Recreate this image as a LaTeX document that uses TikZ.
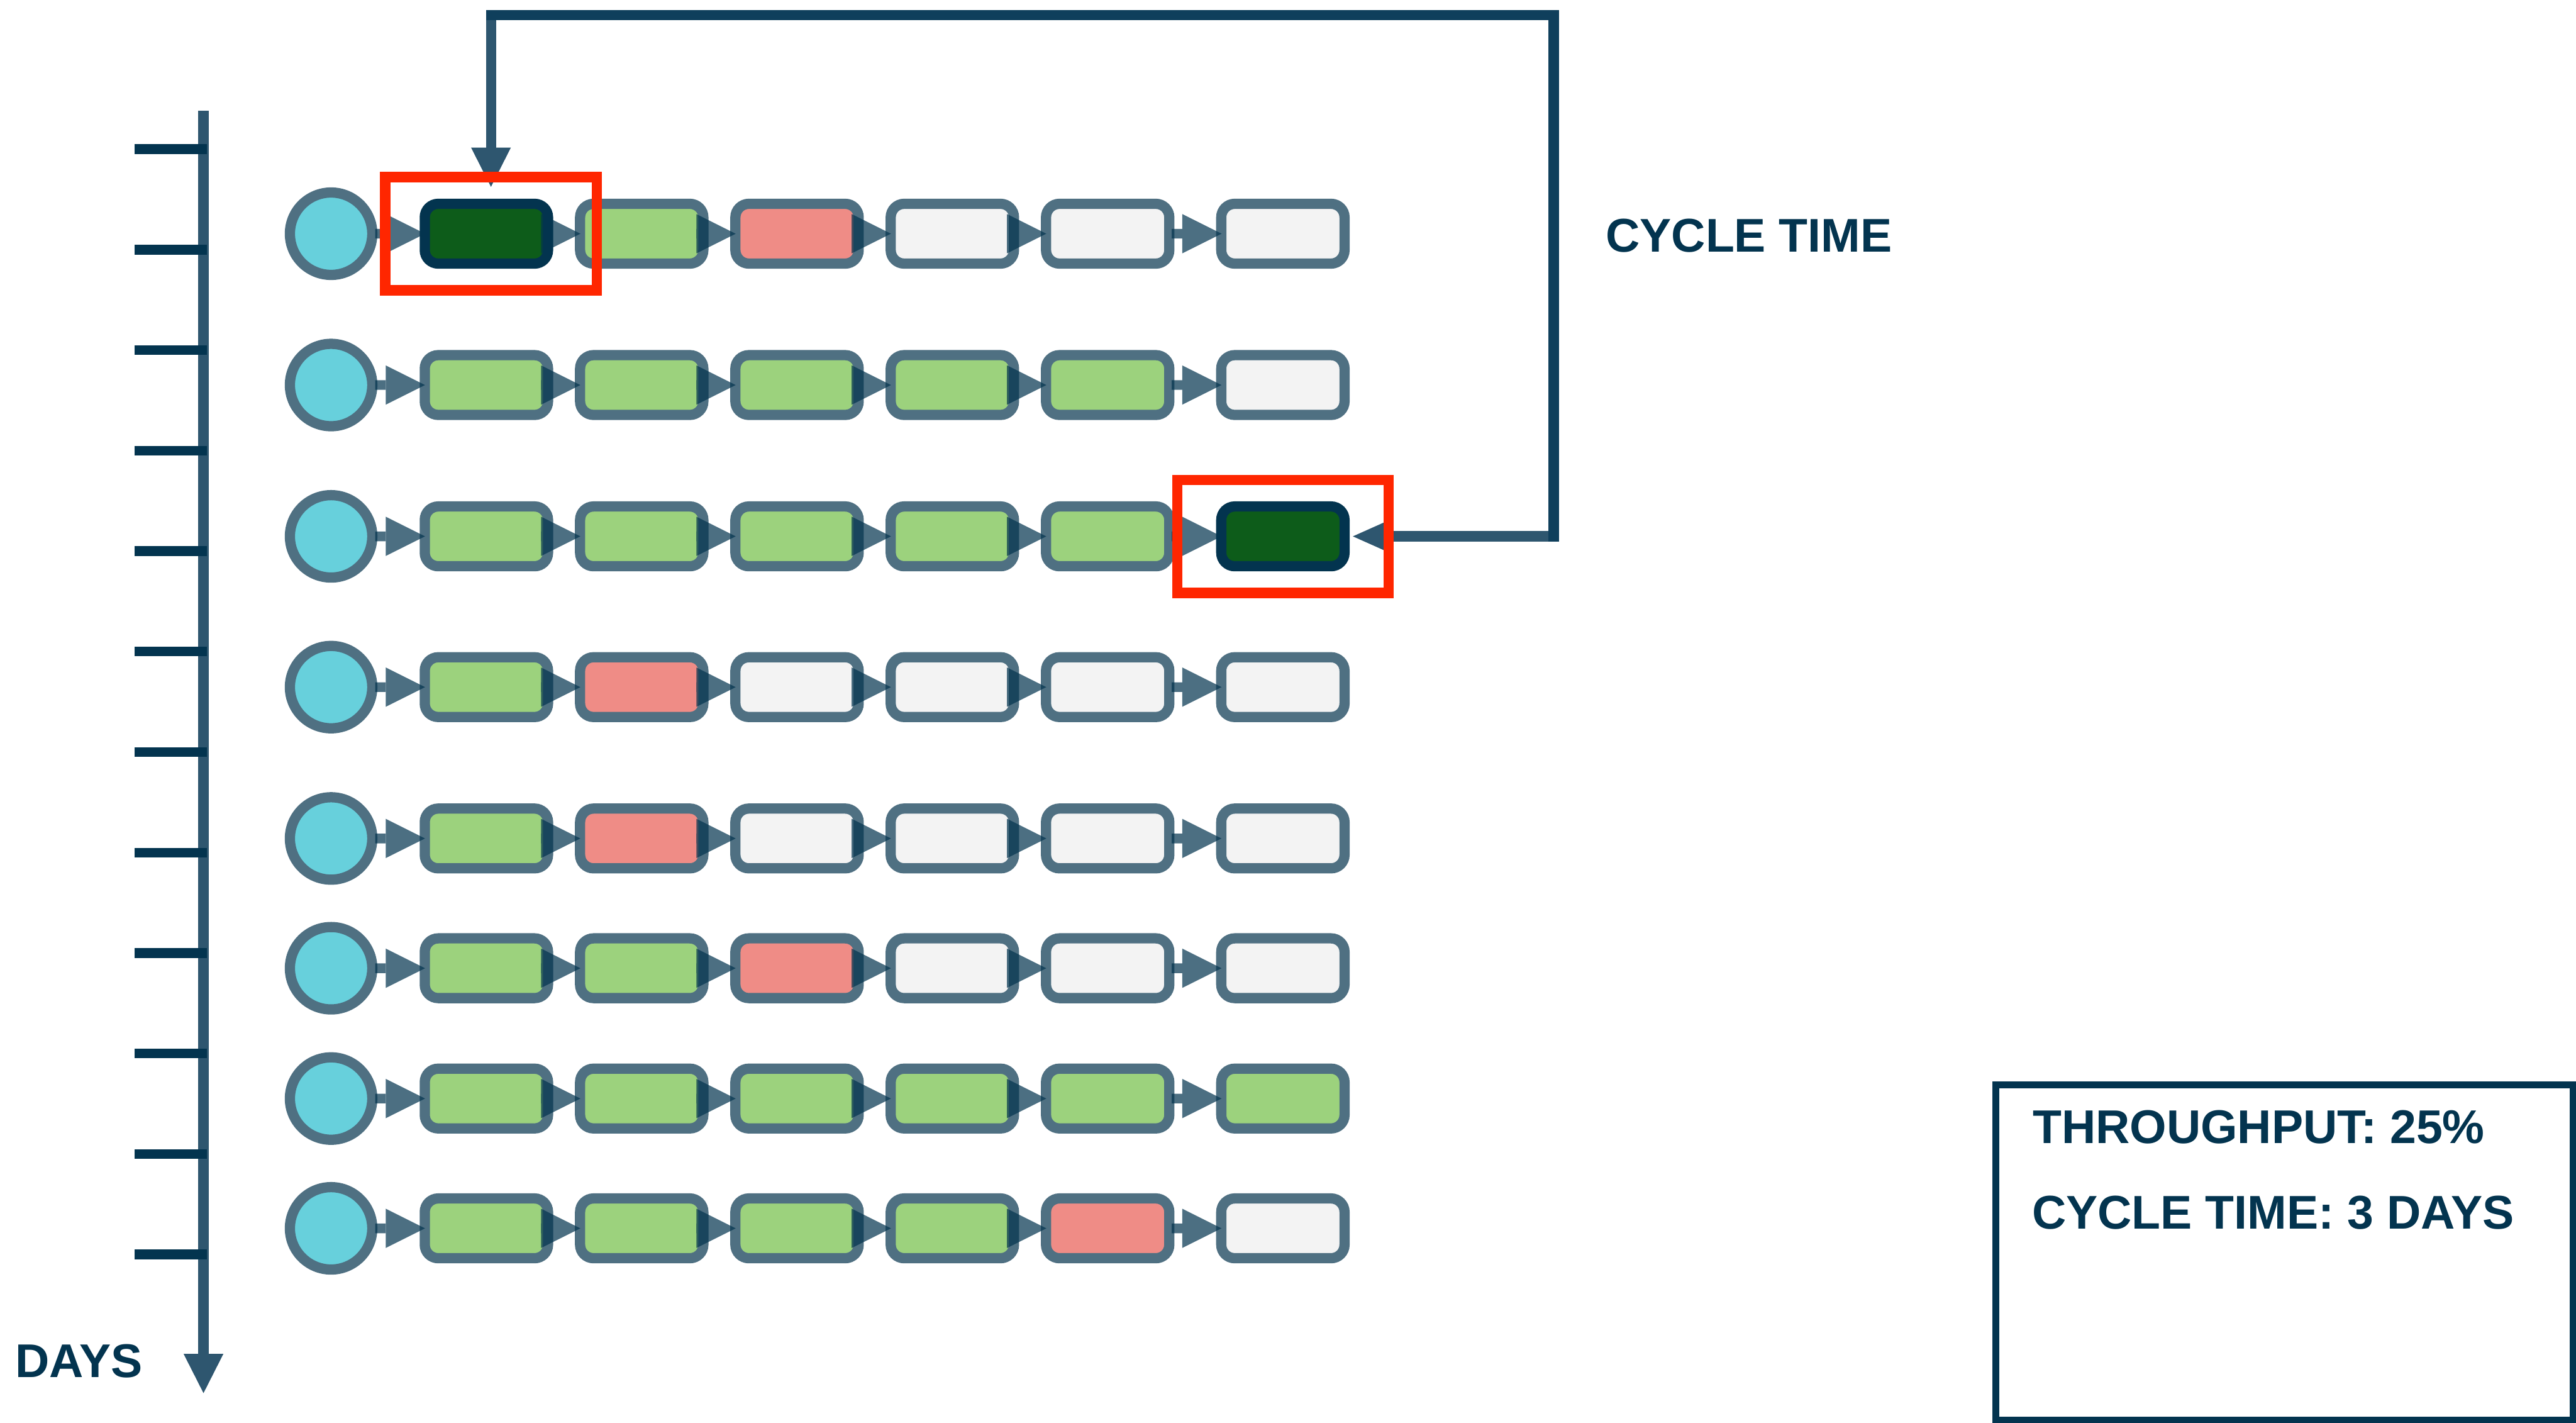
\documentclass[tikz,border=0pt]{standalone}
\usepackage{fontspec}
\setmainfont{Liberation Sans}
\usetikzlibrary{arrows.meta,positioning}

\definecolor{navy}{HTML}{03344F}
\definecolor{axisblue}{HTML}{2E566F}
\definecolor{loopblue}{HTML}{0F3F5C}
\definecolor{edgeblue}{HTML}{4F7082}
\definecolor{sky}{HTML}{67D0DC}
\definecolor{leaf}{HTML}{9CD27D}
\definecolor{salmon}{HTML}{EF8C86}
\definecolor{paper}{HTML}{F3F3F3}
\definecolor{forest}{HTML}{0D5C1A}
\definecolor{alert}{HTML}{FF2600}

\begin{document}
\begin{tikzpicture}[y=-1cm,
        start node/.style={circle, draw=edgeblue, fill=sky, line width=.19cm, minimum size=1.53cm, inner sep=0},
        task node/.style={rectangle, rounded corners=.25cm, draw=edgeblue, line width=.19cm, minimum width=2.29cm, minimum height=1.11cm, inner sep=0},
        donebox/.style={fill=leaf}, wipbox/.style={fill=salmon}, todobox/.style={fill=paper},
        hitbox/.style={fill=forest, draw=navy},
        flow/.style={draw=navy, line width=.18cm, shorten >=-.1cm, -{Triangle[length=.73cm, width=.73cm, line width=0pt]}},
        cyc/.style={draw=axisblue, line width=.19cm, -{Triangle[length=.73cm, width=.74cm, line width=0pt]}},
        redframe/.style={rectangle, draw=alert, line width=.19cm, minimum width=3.93cm, minimum height=2.10cm, inner sep=0},
        caption/.style={inner sep=0, anchor=base west, text=navy, font=\bfseries\fontsize{25}{30}\selectfont}]
    \useasboundingbox (0,0) rectangle (47.85,26.42);

    \foreach \row/\y/\states in {
            1/4.34/{hitbox,donebox,wipbox,todobox,todobox,todobox},
            2/7.15/{donebox,donebox,donebox,donebox,donebox,todobox},
            3/9.96/{donebox,donebox,donebox,donebox,donebox,hitbox},
            4/12.76/{donebox,wipbox,todobox,todobox,todobox,todobox},
            5/15.57/{donebox,wipbox,todobox,todobox,todobox,todobox},
            6/17.98/{donebox,donebox,wipbox,todobox,todobox,todobox},
            7/20.40/{donebox,donebox,donebox,donebox,donebox,donebox},
            8/22.81/{donebox,donebox,donebox,donebox,wipbox,todobox}} {
        \node[start node] (s\row) at (6.15,\y) {};
        \foreach \st [count=\col] in \states {
            \pgfmathtruncatemacro\prevcol{\col-1}
            \ifnum\col=1 \def\prev{s\row}\def\gap{.785}\def\back{.04}
            \else\ifnum\col=6 \def\prev{r\row-\prevcol}\def\gap{.775}\def\back{.05}
            \else \def\prev{r\row-\prevcol}\def\gap{.405}\def\back{.24}\fi\fi
            \node[task node, \st, right=\gap cm of \prev] (r\row-\col) {};
            \begin{scope}[transparency group, opacity=.71]
                \draw[flow, shorten <=-\back cm] (\prev) -- (r\row-\col);
            \end{scope}
        }
    }

    \coordinate (nw) at (9.12,.28);
    \coordinate (ne) at (28.86,.28);
    \draw[cyc, shorten >=.22cm] (nw) -- (nw |- r1-1.north);
    \draw[cyc, shorten >=.06cm, -{Triangle[length=.65cm, width=.58cm, line width=0pt]}] (ne |- r3-6) -- (r3-6);
    \draw[loopblue, line width=.19cm, line cap=rect] (nw) -- (ne) -- (ne |- r3-6);

    \node[redframe] (hl1) at ([xshift=.085cm]r1-1) {};
    \node[redframe] (hl2) at (r3-6) {};

    \coordinate (t0) at (3.78,2.06);
    \coordinate (t1) at (3.78,25.87);
    \draw[cyc] (t0) -- (t1);
    \foreach \t in {0,...,11}
        \draw[navy, line width=.18cm] (2.50,{2.77+1.866*\t}) -- (3.84,{2.77+1.866*\t});

    \node[caption] (ctime) at (29.82,4.68) {CYCLE TIME};
    \node[caption] (days) at (.28,25.58) {DAYS};
    \node[draw=navy, line width=.13cm, minimum width=10.73cm, minimum height=6.22cm, inner sep=0, outer sep=0, anchor=north west] (stats) at (37.07,20.15) {};
    \node[caption] (tput) at (37.75,21.23) {THROUGHPUT: 25\%};
    \node[caption] (ctdays) at (37.74,22.82) {CYCLE TIME: 3 DAYS};
\end{tikzpicture}
\end{document}
